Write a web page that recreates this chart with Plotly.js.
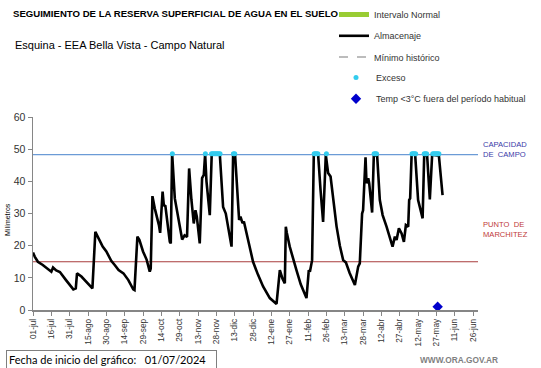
<!DOCTYPE html>
<html><head><meta charset="utf-8">
<script src="https://cdn.plot.ly/plotly-3.0.1.min.js"></script>
<style>html,body{margin:0;padding:0;background:#fff}#chart{width:541px;height:368px}</style>
</head><body><div id="chart"></div>
<script>
// ---- data ----
const startDate = '2024-07-01';
const storageDays = [0,1.4,4,8,15,16.4,19,22,27,31,33,35,36,39.6,46,48.6,51,53,57,60,64,67,70,74,78,82,83,85.4,87,90,93,95.5,96.3,97.7,99.6,103,104,106,107,108.3,111.9,112.7,113.8,116,120,122,124,126,127,127.7,129.6,131.5,132.9,134,136.4,138.3,139.7,140.8,141.9,144.6,146.2,152.8,155.5,157.7,162.4,163.7,165.3,168.6,169.7,171.4,172.5,174.6,180,184,188.2,193.7,199.2,201.9,204,206,206.8,207.6,210,215.5,219,223.7,225.6,226.5,228.3,229.7,233.2,235.2,237.3,239.5,241.4,243.4,248.3,251,253.7,255.9,259,263.3,266,267.3,269.2,270,272,272.8,274.2,275,277.4,278.8,281.5,283.7,286,289.2,294.1,296,297.4,299.3,301.5,303.4,305,306.9,307.7,308.5,309.7,312.6,315,318.7,320,322.4,324.6,326.5,332,335];
const storageValues = [17.9,16.6,15,14,11.9,13.2,12.3,11.8,9.3,7.3,6.4,6.7,11.4,10.4,7.8,6.7,24.3,22.8,19.7,18.2,15.3,13.9,12.4,11.4,9.3,6.4,6.2,22.8,21.8,18.2,15.6,11.9,12.9,35.4,31.6,26.4,24,36.8,32.6,32.3,21.2,20.7,48.7,34.7,26.9,21.9,23.2,22.7,35.2,44,34.2,26.9,31,29,20.7,41,42,48.5,40,29.5,48.5,48.5,32,30,19.7,48.5,48.2,28,29,27,27.5,24,15,11,7.3,3.7,1.9,12.4,9.8,8.3,25.9,24,19.7,12.4,8,3.7,12.4,11.9,15.5,48.5,48.5,37.3,27.4,48.2,42.6,41.5,26,20,15.5,14.8,11.5,7.8,13.5,14.5,30,31,47.5,39.4,41,39.4,30.3,48.3,48,34.2,29.5,25.9,19.7,22.8,21.8,25.4,23.8,21.2,26.4,25.9,34.2,34.7,48.3,48.3,34.2,28.5,48.3,48,34.4,48.3,48,35.7];
const excessDays = [114,141,146,147,148,149,150,151,152,153,164,165,230,231,232,233,240,279,280,281,310,311,312,313,320,321,322,327,328,329,330,331,332];
const excessValues = [48.6,48.6,48.6,48.6,48.6,48.6,48.6,48.6,48.6,48.6,48.6,48.6,48.6,48.6,48.6,48.6,48.6,48.6,48.6,48.6,48.6,48.6,48.6,48.6,48.6,48.6,48.6,48.6,48.6,48.6,48.6,48.6,48.6];
const frostDays = [331];
const frostValues = [1];
const fieldCapacity = 48.3;
const wiltingPoint = 15;
const tickDays = [0,15,30,45,60,75,90,105,120,135,150,165,180,195,210,225,240,255,270,285,300,315,330,345,360];
const tickLabels = ['01-jul','16-jul','31-jul','15-ago','30-ago','14-sep','29-sep','14-oct','29-oct','13-nov','28-nov','13-dic','28-dic','12-ene','27-ene','11-feb','26-feb','13-mar','28-mar','12-abr','27-abr','12-may','27-may','11-jun','26-jun'];
const rangeDays = [0, 364];

// ---- helpers ----
const t0 = Date.UTC(2024,6,1);
function toDate(d){ return new Date(t0 + d*86400000).toISOString().slice(0,19).replace('T',' '); }
const dd = a => a.map(toDate);

const F = 'Liberation Sans, Arial, sans-serif';
const W = 541, H = 368;
const traces = [
  {x:dd(rangeDays), y:[fieldCapacity, fieldCapacity], type:'scatter', mode:'lines', showlegend:false, hoverinfo:'skip',
   line:{color:'#6b9bd6', width:1.2}},
  {x:dd(rangeDays), y:[wiltingPoint, wiltingPoint], type:'scatter', mode:'lines', showlegend:false, hoverinfo:'skip',
   line:{color:'#a83c3c', width:1.2}},
  {x:[null], y:[null], type:'scatter', mode:'lines', name:'Intervalo Normal', legendgroup:'a', legend:'legend',
   line:{color:'#99cc33', width:5}},
  {x:dd(storageDays), y:storageValues, type:'scatter', mode:'lines', name:'Almacenaje', legendgroup:'b', legend:'legend',
   line:{color:'#000000', width:2.6}},
  {x:[null], y:[null], type:'scatter', mode:'lines', name:'Mínimo histórico', legendgroup:'c', legend:'legend',
   line:{color:'#a6a6a6', width:1.5, dash:'dash'}},
  {x:dd(excessDays), y:excessValues, type:'scatter', mode:'markers', name:'Exceso', legendgroup:'d', legend:'legend2',
   marker:{color:'#33ccee', size:5, symbol:'circle'}},
  {x:dd(frostDays), y:frostValues, type:'scatter', mode:'markers', name:'Temp <3°C fuera del período habitual', legendgroup:'e', legend:'legend2',
   marker:{color:'#0000cc', size:8, symbol:'diamond'}}
];

const legendCommon = {xanchor:'left', yanchor:'top', xref:'container', yref:'container', bgcolor:'rgba(0,0,0,0)',
  font:{family:F, size:9, color:'#333'}, tracegroupgap:2.3, itemwidth:30, traceorder:'grouped'};

const layout = {
  width:W, height:H,
  margin:{l:33, r:63, t:117, b:58, pad:0, autoexpand:false},
  paper_bgcolor:'#ffffff', plot_bgcolor:'#ffffff',
  font:{family:F, color:'#333333'},
  showlegend:true,
  title:{text:'<b>SEGUIMIENTO DE LA RESERVA SUPERFICIAL DE AGUA EN EL SUELO</b>',
    font:{family:F, size:9.6, color:'#000'}, x:13/W, xref:'container', xanchor:'left',
    y:1-14/H, yref:'container', yanchor:'middle', automargin:false},
  legend:Object.assign({x:334/W, y:1-(-1.5)/H}, legendCommon),
  legend2:Object.assign({x:336/W, y:1-63/H}, legendCommon),
  xaxis:{type:'date', range:dd(rangeDays), tickmode:'array', tickvals:dd(tickDays), ticktext:tickLabels,
    tickangle:-90, tickfont:{family:F, size:8.3, color:'#333'}, ticks:'outside', ticklen:4, tickcolor:'#868686',
    showline:true, linecolor:'#868686', linewidth:1.5, showgrid:false, zeroline:false, fixedrange:true, automargin:false},
  yaxis:{range:[0,60], dtick:10, tick0:0, tickfont:{family:F, size:10.5, color:'#333'}, ticks:'outside', ticklen:4,
    tickcolor:'#868686', showline:true, linecolor:'#868686', linewidth:1.5, showgrid:false, zeroline:false, fixedrange:true, automargin:false},
  annotations:[
    {text:'Esquina - EEA Bella Vista - Campo Natural', xref:'paper', yref:'paper', x:(13-33)/445, y:(310-45)/193,
     xanchor:'left', yanchor:'middle', showarrow:false, font:{family:F, size:11, color:'#000'}},
    {text:'Milímetros', xref:'paper', yref:'paper', x:(7-33)/445, y:(310-220)/193, textangle:-90,
     xanchor:'center', yanchor:'middle', showarrow:false, font:{family:F, size:7, color:'#000'}},
    {text:'CAPACIDAD<br>DE  CAMPO', xref:'paper', yref:'paper', x:(481-33)/445, y:(310-149.5)/193, xanchor:'left', yanchor:'middle',
     align:'left', showarrow:false, font:{family:F, size:7.6, color:'#3a3aa8'}},
    {text:'PUNTO  DE<br>MARCHITEZ', xref:'paper', yref:'paper', x:(481-33)/445, y:(310-229.5)/193, xanchor:'left', yanchor:'middle',
     align:'left', showarrow:false, font:{family:F, size:7.6, color:'#c03a3a'}},
    {text:'Fecha de inicio del gráfico:&nbsp;&nbsp;&nbsp;01/07/2024&nbsp;&nbsp;&nbsp;', xref:'paper', yref:'paper', x:(6-33)/445, y:-(359-310)/193,
     xanchor:'left', yanchor:'middle', showarrow:false, bordercolor:'#7f7f7f', borderwidth:1, borderpad:2, bgcolor:'#fff',
     font:{family:'Lato, Noto Sans, sans-serif', size:11, color:'#000'}},
    {text:'<b>WWW.ORA.GOV.AR</b>', xref:'paper', yref:'paper', x:(500-33)/445, y:-(360-310)/193,
     xanchor:'right', yanchor:'middle', showarrow:false, font:{family:F, size:8.3, color:'#7f7f7f'}}
  ]
};
Plotly.newPlot('chart', traces, layout, {displayModeBar:false, staticPlot:true});
</script></body></html>
